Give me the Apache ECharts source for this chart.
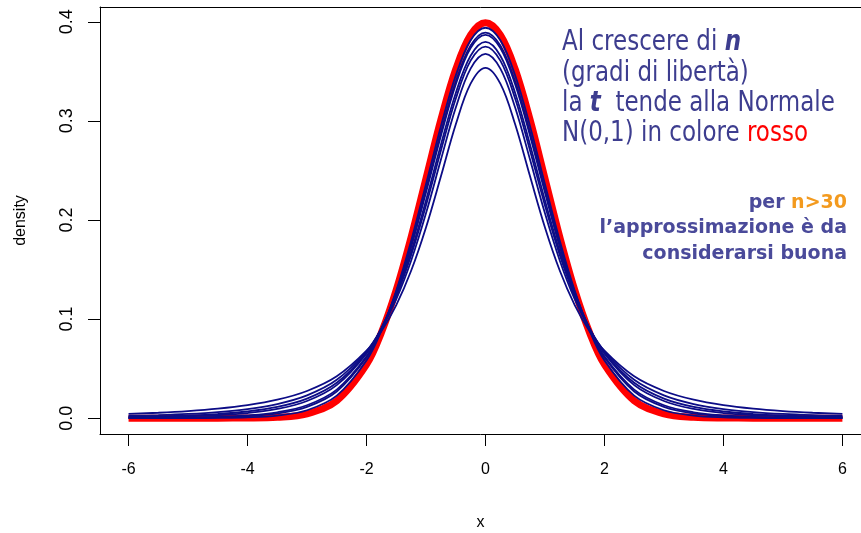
<!DOCTYPE html>
<html>
<head>
<meta charset="utf-8">
<script src="https://cdn.jsdelivr.net/npm/echarts@6/dist/echarts.min.js"></script>
<style>
  html, body { margin: 0; padding: 0; background: #fff; }
  #chart { width: 861px; height: 533px; }
</style>
</head>
<body>
<div id="chart"></div>
<script>
const xs = [-6,-5.5,-5,-4.5,-4,-3.5,-3,-2.5,-2,-1.75,-1.5,-1.25,-1,-0.75,-0.5,-0.25,0,
            0.25,0.5,0.75,1,1.25,1.5,1.75,2,2.5,3,3.5,4,4.5,5,5.5,6];

// N(0,1), red thick curve
const normal = [0,0,0,0.00002,0.00013,0.00087,0.00443,0.01753,0.05399,0.08628,0.12952,0.18265,0.24197,0.30114,0.35207,0.38667,0.39894,
                0.38667,0.35207,0.30114,0.24197,0.18265,0.12952,0.08628,0.05399,0.01753,0.00443,0.00087,0.00013,0.00002,0,0,0];

// t curves (blue)
const t2 = [0.00427,0.00546,0.00713,0.00953,0.01310,0.01859,0.02741,0.04219,0.06804,0.08779,0.11413,0.14872,0.19245,0.24379,0.29630,0.33761,0.35355,
            0.33761,0.29630,0.24379,0.19245,0.14872,0.11413,0.08779,0.06804,0.04219,0.02741,0.01859,0.01310,0.00953,0.00713,0.00546,0.00427];
const t3 = [0.00217,0.00299,0.00422,0.00612,0.00916,0.01422,0.02297,0.03866,0.06751,0.09000,0.12002,0.15891,0.20675,0.26065,0.31318,0.35270,0.36755,
            0.35270,0.31318,0.26065,0.20675,0.15891,0.12002,0.09000,0.06751,0.03866,0.02297,0.01422,0.00916,0.00612,0.00422,0.00299,0.00217];
const t4 = [0.00119,0.00175,0.00265,0.00415,0.00671,0.01128,0.01969,0.03567,0.06629,0.09052,0.12288,0.16445,0.21466,0.26989,0.32226,0.36074,0.37500,
            0.36074,0.32226,0.26989,0.21466,0.16445,0.12288,0.09052,0.06629,0.03567,0.01969,0.01128,0.00671,0.00415,0.00265,0.00175,0.00119];
const t5 = [0.00069,0.00108,0.00176,0.00295,0.00512,0.00924,0.01729,0.03333,0.06509,0.09053,0.12452,0.16790,0.21968,0.27571,0.32792,0.36572,0.37961,
            0.36572,0.32792,0.27571,0.21968,0.16790,0.12452,0.09053,0.06509,0.03333,0.01729,0.00924,0.00512,0.00295,0.00176,0.00108,0.00069];
const t8 = [0.00018,0.00034,0.00066,0.00132,0.00276,0.00592,0.01301,0.02878,0.06235,0.08993,0.12677,0.17326,0.22761,0.28482,0.33669,0.37338,0.38669,
            0.37338,0.33669,0.28482,0.22761,0.17326,0.12677,0.08993,0.06235,0.02878,0.01301,0.00592,0.00276,0.00132,0.00066,0.00034,0.00018];
const t10 = [0.00009,0.00018,0.00040,0.00088,0.00203,0.00478,0.01140,0.02694,0.06114,0.08956,0.12745,0.17510,0.23036,0.28798,0.33970,0.37600,0.38911,
             0.37600,0.33970,0.28798,0.23036,0.17510,0.12745,0.08956,0.06114,0.02694,0.01140,0.00478,0.00203,0.00088,0.00040,0.00018,0.00009];
const t20 = [0.00001,0.00002,0.00008,0.00025,0.00082,0.00261,0.00797,0.02267,0.05808,0.08825,0.12863,0.17884,0.23604,0.29444,0.34580,0.38128,0.39398,
             0.38128,0.34580,0.29444,0.23604,0.17884,0.12863,0.08825,0.05808,0.02267,0.00797,0.00261,0.00082,0.00025,0.00008,0.00002,0.00001];

const xTicks = [-6,-4,-2,0,2,4,6];
const yTicks = [0,0.1,0.2,0.3,0.4];

const pairs = ys => xs.map((x, i) => [x, ys[i]]);

const chart = echarts.init(document.getElementById('chart'), null, {renderer: 'canvas'});

const blue = '#0c0c86';
const txtBlue = '#3d3d8f';
const axisFont = {fontFamily: 'Liberation Sans', color: '#000'};
const tSeries = [t2, t3, t4, t5, t8, t10, t20].map(ys => ({
  type: 'line', data: pairs(ys), showSymbol: false, smooth: 0.35,
  lineStyle: {color: blue, width: 1.8}, silent: true
}));

// the plot box runs past the right edge of the picture, so only top/left/bottom are drawn
chart.setOption({
  animation: false,
  grid: {left: 100, top: 7, width: 761, height: 427, show: false, outerBoundsMode: 'none', containLabel: false},
  xAxis: [{
    type: 'value', min: -6.48, max: 6.3126, position: 'bottom',
    name: 'x', nameLocation: 'middle', nameGap: 81,
    nameTextStyle: Object.assign({fontSize: 16}, axisFont),
    axisLine: {show: true, onZero: false, lineStyle: {color: '#000', width: 1}},
    splitLine: {show: false},
    axisTick: {show: true, customValues: xTicks, length: 12, lineStyle: {color: '#000'}},
    axisLabel: Object.assign({customValues: xTicks, margin: 28, fontSize: 16, formatter: v => String(v)}, axisFont)
  }, {
    type: 'value', min: -6.48, max: 6.3126, position: 'top',
    axisLine: {show: true, onZero: false, lineStyle: {color: '#000', width: 1}},
    axisTick: {show: false}, axisLabel: {show: false}, splitLine: {show: false}
  }],
  yAxis: {
    type: 'value', min: -0.016, max: 0.4149,
    name: 'density', nameLocation: 'middle', nameGap: 71, nameRotate: 90,
    nameTextStyle: Object.assign({fontSize: 16}, axisFont),
    axisLine: {show: true, onZero: false, lineStyle: {color: '#000', width: 1}},
    splitLine: {show: false},
    axisTick: {show: true, customValues: yTicks, length: 12, lineStyle: {color: '#000'}},
    axisLabel: Object.assign({customValues: yTicks, margin: 24, rotate: 90, fontSize: 18, formatter: v => v.toFixed(1)}, axisFont)
  },
  series: [
    {type: 'line', data: pairs(normal), showSymbol: false, smooth: 0.35,
     lineStyle: {color: '#ff0000', width: 7}, silent: true}
  ].concat(tSeries),
  graphic: [
    {
      type: 'text', x: 562, y: 28, scaleY: 1.2,
      style: {
        text: '{a|Al crescere di }{b|n}\n{a|(gradi di libertà)}\n{a|la }{b|t}{a|  tende alla Normale}\n{a|N(0,1) in colore }{r|rosso}',
        align: 'left', verticalAlign: 'top',
        rich: {
          a: {fontFamily: 'DejaVu Sans', fontSize: 23, lineHeight: 25.2, fill: txtBlue},
          b: {fontFamily: 'DejaVu Sans', fontSize: 23, lineHeight: 25.2, fill: txtBlue, fontWeight: 'bold', fontStyle: 'italic'},
          r: {fontFamily: 'DejaVu Sans', fontSize: 23, lineHeight: 25.2, fill: '#ff0000'}
        }
      }
    },
    {
      type: 'text', x: 847, y: 190,
      style: {
        text: '{a|per }{o|n>30}\n{a|l\u2019approssimazione è da}\n{a|considerarsi buona}',
        align: 'right', verticalAlign: 'top',
        rich: {
          a: {fontFamily: 'DejaVu Sans', fontSize: 19, fontWeight: 'bold', lineHeight: 25.5, fill: '#4a4a9a', align: 'right'},
          o: {fontFamily: 'DejaVu Sans', fontSize: 19, fontWeight: 'bold', lineHeight: 25.5, fill: '#f39a1e', align: 'right'}
        }
      }
    }
  ]
});
</script>
</body>
</html>
